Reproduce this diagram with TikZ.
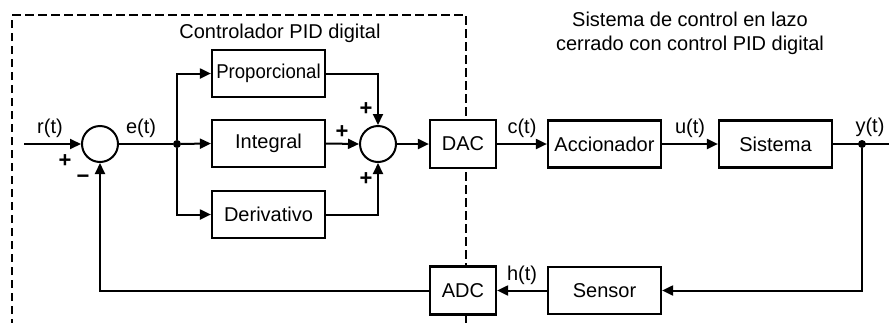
\documentclass[tikz,border=0pt]{standalone}
\usepackage{fontspec}
\setmainfont{Liberation Sans}
\usetikzlibrary{arrows.meta}
\begin{document}
\begin{tikzpicture}[x=1pt,y=-1pt, font=\fontsize{20}{24}\selectfont,
  blk/.style={draw, line width=2.2pt, fill=white, minimum width=113pt, minimum height=47pt, inner sep=0pt},
  conv/.style={blk, minimum width=66pt, minimum height=48pt},
  sumc/.style={draw, circle, line width=2pt, minimum size=36pt, inner sep=0pt, fill=white},
  jdot/.style={circle, fill, inner sep=0pt, minimum size=8pt},
  wire/.style={line width=2pt},
  arr/.style={wire, -{Triangle[length=11pt,width=10pt]}},
  lbl/.style={inner sep=0pt},
  sgn/.style={inner sep=0pt, font=\fontsize{22}{24}\selectfont\bfseries},
  frame/.style={line width=2.6pt, dash pattern=on 8.5pt off 4.5pt}]
\useasboundingbox (0,0) rectangle (889,322);
\clip (0,0) rectangle (889,322);
\draw[frame] (12,340) -- (12,15) -- (466,15) -- (466,340);

\node[sumc] (s1) at (100,144) {};
\node[jdot] (b1) at (177,144) {};
\node[blk] (P) at (268.5,73.5) {\scalebox{0.93}[1]{Proporcional}};
\node[blk] (I) at (268.5,143.5) {Integral};
\node[blk] (D) at (268.5,214.5) {Derivativo};
\node[sumc] (s2) at (378,144) {};
\node[conv] (DAC) at (463,144) {DAC};
\node[blk] (A) at (604.5,144) {Accionador};
\node[blk] (S) at (775.5,144) {Sistema};
\node[jdot] (b2) at (862,144) {};
\coordinate (out) at (892,144);
\coordinate (in) at (24,144);
\node[blk] (Se) at (604.5,290.5) {Sensor};
\node[conv] (ADC) at (463,290.5) {ADC};

\draw[arr] (in) -- (s1.west);
\draw[wire] (s1.east) -- (b1);
\draw[arr] (b1) -- (I.west);
\draw[arr] (b1) |- (P.west);
\draw[arr] (b1) |- (D.west);
\draw[arr] (P.east) -| (s2.north);
\draw[arr] (I.east) -- (s2.west);
\draw[arr] (D.east) -| (s2.south);
\draw[arr] (s2.east) -- (DAC.west);
\draw[arr] (DAC.east) -- (A.west);
\draw[arr] (A.east) -- (S.west);
\draw[wire] (S.east) -- (out);
\draw[arr] (b2) |- (Se.east);
\draw[arr] (Se.west) -- (ADC.east);
\draw[arr] (ADC.west) -| (s1.south);

\node[lbl] (lr) at (50,128) {r(t)};
\node[lbl] (le) at (141,128) {e(t)};
\node[lbl] (lc) at (522,128) {c(t)};
\node[lbl] (lu) at (690,128) {u(t)};
\node[lbl] (ly) at (870,127) {y(t)};
\node[lbl] (lh) at (522,275) {h(t)};
\node[sgn] (p1) at (65,161) {+};
\node[sgn] (m1) at (83,179) {−};
\node[sgn] (p2) at (366,109) {+};
\node[sgn] (p3) at (342,132) {+};
\node[sgn] (p4) at (366,179) {+};

\node[lbl] (t1) at (280,33) {Controlador PID digital};
\node[lbl, align=center] (t2) at (690,33) {Sistema de control en lazo\\cerrado con control PID digital};
\end{tikzpicture}
\end{document}
